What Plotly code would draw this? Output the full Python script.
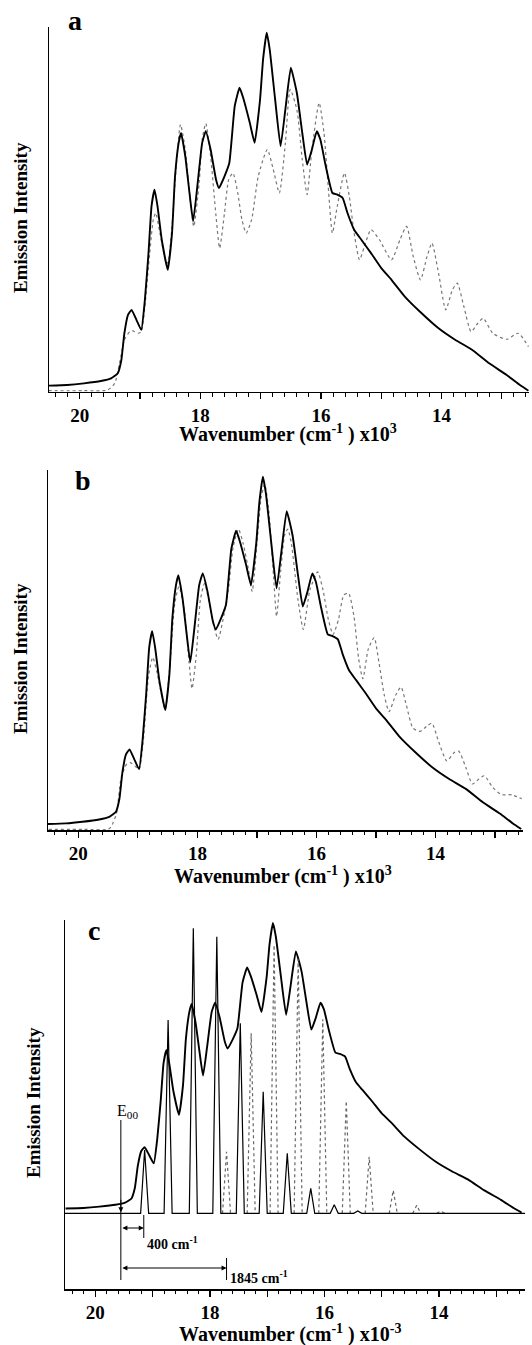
import plotly.graph_objects as go

# ---------------- data (wavenumber in 10^3 cm^-1, intensity in arbitrary units) -------------
tick_vals = [20, 19, 18, 17, 16, 15, 14, 13]
tick_text = ["20", "", "18", "", "16", "", "14", ""]

# measured emission spectrum (same in all three panels)
exp_x = [20.52, 20.21, 19.93, 19.65, 19.48, 19.37, 19.31, 19.26, 19.20, 19.14, 19.06, 18.98,
         18.92, 18.86, 18.81, 18.76, 18.71, 18.64, 18.54, 18.47, 18.42, 18.36, 18.32, 18.25,
         18.18, 18.12, 18.05, 17.97, 17.91, 17.83, 17.74, 17.69, 17.60, 17.52, 17.43, 17.35,
         17.29, 17.18, 17.10, 17.01, 16.96, 16.90, 16.85, 16.76, 16.67, 16.59, 16.50, 16.40,
         16.31, 16.23, 16.15, 16.07, 16.01, 15.92, 15.81, 15.73, 15.64, 15.56, 15.45, 15.33,
         15.17, 15.00, 14.83, 14.61, 14.33, 14.05, 13.77, 13.49, 13.21, 12.92, 12.70, 12.56]
exp_y = [18, 20, 25, 32, 40, 55, 95, 175, 230, 245, 215, 185,
         275, 415, 555, 605, 555, 455, 365, 475, 645, 745, 775, 705,
         595, 510, 615, 745, 780, 725, 635, 610, 645, 685, 855, 910,
         880, 805, 745, 875, 995, 1075, 1025, 875, 735, 845, 970, 895,
         775, 680, 725, 780, 755, 675, 595, 590, 580, 535, 485, 455,
         415, 370, 335, 285, 235, 190, 155, 125, 85, 50, 20, 3]

# calculated spectrum, panel a
calc_a_x = [20.52, 19.93, 19.54, 19.42, 19.34, 19.26, 19.17, 19.12, 19.03, 18.98, 18.92, 18.86,
            18.78, 18.74, 18.67, 18.58, 18.54, 18.47, 18.40, 18.33, 18.25, 18.18, 18.11, 18.02,
            17.97, 17.91, 17.83, 17.74, 17.68, 17.60, 17.53, 17.46, 17.38, 17.31, 17.24, 17.15,
            17.04, 16.89, 16.79, 16.69, 16.59, 16.51, 16.40, 16.31, 16.23, 16.15, 16.03, 15.95,
            15.88, 15.81, 15.73, 15.61, 15.53, 15.45, 15.36, 15.28, 15.17, 15.03, 14.83, 14.69,
            14.58, 14.47, 14.35, 14.24, 14.16, 14.05, 13.93, 13.82, 13.74, 13.63, 13.51, 13.40,
            13.31, 13.15, 12.92, 12.73, 12.56]
calc_a_y = [3, 3, 5, 25, 85, 155, 180, 182, 175, 180, 255, 375,
            515, 535, 475, 395, 385, 495, 675, 800, 725, 595, 495, 625,
            755, 803, 705, 525, 430, 535, 635, 655, 595, 515, 475, 515,
            645, 725, 665, 595, 745, 905, 845, 695, 590, 725, 865, 775,
            615, 475, 555, 655, 585, 475, 395, 435, 485, 455, 395, 455,
            495, 405, 335, 405, 445, 355, 245, 305, 325, 255, 180, 205,
            220, 175, 157, 175, 135]

# calculated spectrum, panel b
calc_b_x = [20.50, 19.90, 19.50, 19.45, 19.36, 19.28, 19.19, 19.13, 19.05, 18.98, 18.91, 18.82,
            18.75, 18.68, 18.59, 18.54, 18.45, 18.38, 18.31, 18.22, 18.14, 18.09, 18.02, 17.95,
            17.88, 17.80, 17.71, 17.65, 17.57, 17.48, 17.40, 17.31, 17.23, 17.14, 17.08, 17.00,
            16.93, 16.87, 16.80, 16.72, 16.67, 16.60, 16.53, 16.48, 16.42, 16.31, 16.22, 16.11,
            15.98, 15.89, 15.80, 15.72, 15.63, 15.54, 15.46, 15.37, 15.29, 15.22, 15.13, 15.03,
            14.95, 14.86, 14.78, 14.67, 14.58, 14.49, 14.38, 14.26, 14.15, 14.06, 13.95, 13.81,
            13.69, 13.61, 13.49, 13.38, 13.27, 13.18, 13.04, 12.90, 12.72, 12.55]
calc_b_y = [2, 2, 2, 10, 50, 160, 200, 205, 195, 185, 270, 470,
            525, 480, 400, 365, 530, 690, 740, 670, 510, 430, 530, 700,
            750, 690, 610, 580, 640, 730, 860, 915, 870, 790, 725, 870,
            1010, 1052, 970, 770, 650, 790, 900, 915, 870, 700, 610, 730,
            785, 730, 640, 595, 640, 715, 720, 650, 520, 460, 550, 585,
            510, 410, 360, 410, 435, 380, 310, 300, 315, 325, 270, 210,
            235, 240, 190, 140, 155, 165, 130, 108, 107, 95]

# panel c: individual vibronic progressions (solid and dotted)
solid_pos = [19.14, 18.73, 18.29, 17.88, 17.47, 17.07, 16.65, 16.24, 15.83, 15.42, 15.01]
solid_h = [190, 580, 855, 830, 570, 365, 180, 75, 26, 7, 2]
dotted_pos = [17.71, 17.28, 16.88, 16.46, 16.03, 15.62, 15.22, 14.80, 14.39, 13.97]
dotted_h = [185, 540, 805, 762, 582, 337, 170, 69, 24, 7]

E00 = 19.555
spacing_labels = ["400 cm<sup>-1</sup>", "1845 cm<sup>-1</sup>"]
spacing_ends = [19.155, 17.71]

# ---------------- layout geometry -------------
W, H = 532, 1345
FONT = "Liberation Serif"


def fx(p):
    return p / W


def fy(p):
    return 1 - p / H


STICK_HALF = 0.07

fig = go.Figure()

# panel a
fig.add_trace(go.Scatter(x=calc_a_x, y=calc_a_y, xaxis="x", yaxis="y", mode="lines",
                         line=dict(color="#777777", width=1.2, dash="dot", shape="spline", smoothing=0.6)))
fig.add_trace(go.Scatter(x=exp_x, y=exp_y, xaxis="x", yaxis="y", mode="lines",
                         line=dict(color="black", width=1.9, shape="spline", smoothing=0.4)))
# panel b
fig.add_trace(go.Scatter(x=calc_b_x, y=calc_b_y, xaxis="x2", yaxis="y2", mode="lines",
                         line=dict(color="#777777", width=1.2, dash="dot", shape="spline", smoothing=0.6)))
fig.add_trace(go.Scatter(x=exp_x, y=exp_y, xaxis="x2", yaxis="y2", mode="lines",
                         line=dict(color="black", width=1.9, shape="spline", smoothing=0.4)))

# panel c sticks
sx, sy = [20.53], [0]
for c, h in zip(solid_pos, solid_h):
    sx += [c + STICK_HALF, c, c - STICK_HALF]
    sy += [0, h, 0]
sx += [12.50]
sy += [0]
dx, dy = [], []
for c, h in zip(dotted_pos, dotted_h):
    dx += [c + STICK_HALF, c, c - STICK_HALF, None]
    dy += [0, h, 0, None]
fig.add_trace(go.Scatter(x=dx, y=dy, xaxis="x3", yaxis="y4", mode="lines",
                         line=dict(color="#666666", width=1.2, dash="dot")))
fig.add_trace(go.Scatter(x=sx, y=sy, xaxis="x3", yaxis="y4", mode="lines",
                         line=dict(color="black", width=1.2)))
fig.add_trace(go.Scatter(x=exp_x, y=exp_y, xaxis="x3", yaxis="y3", mode="lines",
                         line=dict(color="black", width=1.9, shape="spline", smoothing=0.4)))

xcommon = dict(showline=True, linecolor="black", linewidth=1.5, showgrid=False, zeroline=False,
               ticks="outside", ticklen=6, tickwidth=1.2, tickcolor="black",
               tickmode="array", tickvals=tick_vals, ticktext=tick_text,
               tickfont=dict(family=FONT, size=19, color="black", weight="bold"),
               minor=dict(dtick=0.2, tick0=0, ticks="outside", ticklen=3.5, tickwidth=1, tickcolor="black"))
ycommon = dict(showline=True, linecolor="black", linewidth=1.5, showgrid=False, zeroline=False,
               ticks="", showticklabels=False)

# panel boundaries in pixels
A = dict(l=49, r=529, t=27, b=391.7)
B = dict(l=48, r=523, t=470, b=830)
C = dict(l=65, r=525, t=920, b=1289)

fig.update_layout(
    width=W, height=H, margin=dict(l=0, r=0, t=0, b=0),
    paper_bgcolor="white", plot_bgcolor="white", showlegend=False,
    xaxis=dict(xcommon, domain=[fx(A["l"]), fx(A["r"])], range=[20.51, 12.55], anchor="y"),
    yaxis=dict(ycommon, domain=[fy(A["b"]), fy(A["t"])], range=[0, 1092], anchor="x"),
    xaxis2=dict(xcommon, domain=[fx(B["l"]), fx(B["r"])], range=[20.51, 12.53], anchor="y2"),
    yaxis2=dict(ycommon, domain=[fy(B["b"]), fy(B["t"])], range=[0, 1095], anchor="x2"),
    xaxis3=dict(xcommon, domain=[fx(C["l"]), fx(C["r"])], range=[20.53, 12.50], anchor="y3"),
    yaxis3=dict(ycommon, domain=[fy(C["b"]), fy(C["t"])], range=[-280, 1086], anchor="x3"),
    yaxis4=dict(domain=[fy(C["b"]), fy(C["t"])], range=[-227, 880], overlaying="y3",
                visible=False, anchor="x3"),
)

ann = []
bold = dict(family=FONT, color="black", size=20, weight="bold")
# panel letters
for letter, (x, y) in zip(["a", "b", "c"], [(75, 20), (83, 480), (94, 930)]):
    ann.append(dict(text=letter, x=fx(x), y=fy(y), xref="paper", yref="paper", showarrow=False,
                    xanchor="center", yanchor="middle", font=dict(bold, size=28)))
# x titles
for txt, (x, y) in zip(["Wavenumber (cm<sup>-1</sup> ) x10<sup>3</sup>",
                        "Wavenumber (cm<sup>-1</sup> ) x10<sup>3</sup>",
                        "Wavenumber (cm<sup>-1</sup> ) x10<sup>-3</sup>"],
                       [(288, 433), (283, 875), (290, 1333)]):
    ann.append(dict(text=txt, x=fx(x), y=fy(y), xref="paper", yref="paper", showarrow=False,
                    xanchor="center", yanchor="middle", font=bold))
# y titles
for (x, y) in [(20, 218), (20, 659), (33, 1103)]:
    ann.append(dict(text="Emission Intensity", x=fx(x), y=fy(y), xref="paper", yref="paper",
                    showarrow=False, textangle=-90, xanchor="center", yanchor="middle",
                    font=dict(bold, size=19)))

# panel c annotations
ann.append(dict(text="E<sub>00</sub>", x=19.66, y=307, xref="x3", yref="y4", showarrow=False,
                xanchor="left", yanchor="middle", font=dict(family=FONT, size=16, color="black")))
ann.append(dict(text="", x=E00, y=3, xref="x3", yref="y4", ax=E00, ay=45, axref="x3", ayref="y4",
                showarrow=True, arrowhead=2, arrowsize=1, arrowwidth=1, arrowcolor="black"))
for end, yv in zip(spacing_ends, [-44, -164]):
    ann.append(dict(text="", x=end, y=yv, xref="x3", yref="y4", ax=E00, ay=yv, axref="x3", ayref="y4",
                    showarrow=True, arrowhead=2, arrowside="end+start", arrowsize=1, arrowwidth=1,
                    arrowcolor="black"))
for lab, end, yv in zip(spacing_labels, spacing_ends, [-88, -192]):
    ann.append(dict(text=lab, x=end - 0.03, y=yv, xref="x3", yref="y4", showarrow=False,
                    xanchor="left", yanchor="middle", font=dict(bold, size=14)))
fig.update_layout(annotations=ann)

shapes = [
    dict(type="line", xref="x3", yref="y4", x0=E00, x1=E00, y0=-200, y1=280,
         line=dict(color="black", width=1)),
    dict(type="line", xref="x3", yref="y4", x0=spacing_ends[0], x1=spacing_ends[0], y0=-5, y1=-74,
         line=dict(color="black", width=1)),
    dict(type="line", xref="x3", yref="y4", x0=spacing_ends[1], x1=spacing_ends[1], y0=-134, y1=-200,
         line=dict(color="black", width=1)),
]
fig.update_layout(shapes=shapes)

fig.write_html("out.html", config={"displayModeBar": False, "staticPlot": True},
               post_script="document.body.style.margin='0';document.body.style.overflow='hidden';")
